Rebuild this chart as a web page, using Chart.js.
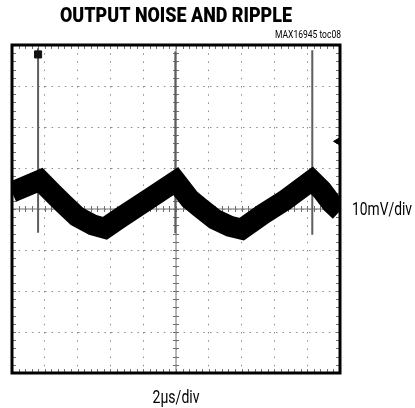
<!DOCTYPE html>
<html>
<head>
<meta charset="utf-8">
<script src="https://cdn.jsdelivr.net/npm/chart.js@4.4.1/dist/chart.umd.min.js"></script>
<style>
  body { margin: 0; background: #fff; }
</style>
</head>
<body>
<canvas id="chartRipple" width="415" height="408"></canvas>
<script>
// scope trace: time in us, output ripple in mV
var timeUs  = [0, 1.71, 2.50, 3.11, 3.96, 4.93, 5.67, 6.58, 8.41, 9.99, 10.84, 11.45, 12.37, 13.28, 14.01, 15.29, 16.63, 18.28, 18.89, 19.49, 20];
var rippleMv = [4.1, 7.0, 3.8, 1.4, -1.8, -3.9, -4.7, -2.2, 2.6, 6.8, 2.4, 0.4, -2.5, -4.2, -4.9, -1.3, 2.1, 7.0, 4.6, 1.4, -0.5];

// switching spikes
var spikeTimeUs   = [1.59, 9.96, 18.31];
var spikeTopMv    = [39.2, 38.4, 38.7];
var spikeBottomMv = [-5.8, -5.9, -6.3];

// scope markers (trigger point at top, trigger level at right)
var triggerTimeUs = [1.59];
var triggerMv     = [37.7];
var levelTimeUs   = [19.85];
var levelMv       = [16.5];

var titleText = "OUTPUT NOISE AND RIPPLE";
var tocText   = "MAX16945 toc08";
var yDivText  = "10mV/div";
var xDivText  = "2\u00b5s/div";

var xMin = 0, xMax = 20, xStep = 2;
var yMin = -40, yMax = 40, yStep = 10;
var minorPerDiv = 5;

var traceData = timeUs.map(function (t, i) { return { x: t, y: rippleMv[i] }; });

var datasets = [];
for (var i = 0; i < spikeTimeUs.length; i++) {
    datasets.push({
        data: [{ x: spikeTimeUs[i], y: spikeTopMv[i] }, { x: spikeTimeUs[i], y: spikeBottomMv[i] }],
        borderColor: '#5e5e5e',
        borderWidth: 2,
        pointRadius: 0,
        order: 3
    });
}
// noisy ripple band
datasets.push({
    data: traceData,
    borderColor: '#000',
    borderWidth: 21,
    borderJoinStyle: 'miter',
    pointRadius: 0,
    order: 2
});
datasets.push({
    data: triggerTimeUs.map(function (t, i) { return { x: t, y: triggerMv[i] }; }),
    showLine: false,
    pointStyle: 'rect',
    pointRadius: 5,
    backgroundColor: '#111',
    borderColor: '#111',
    order: 1
});
datasets.push({
    data: levelTimeUs.map(function (t, i) { return { x: t, y: levelMv[i] }; }),
    showLine: false,
    pointStyle: 'triangle',
    rotation: -90,
    pointRadius: 4,
    backgroundColor: '#000',
    borderColor: '#000',
    order: 1
});

// squeeze a text horizontally to a given width (condensed face look)
function fitText(c, text, font, x, y, align, width) {
    c.save();
    c.font = font;
    var k = width / c.measureText(text).width;
    var x0 = align === 'center' ? x - width / 2 : (align === 'right' ? x - width : x);
    c.translate(x0, y);
    c.scale(k, 1);
    c.textAlign = 'left';
    c.fillText(text, 0, 0);
    c.restore();
}

// center axes with minor ticks, frame and texts
var scopePlugin = {
    id: 'scope',
    beforeDatasetsDraw: function (chart) {
        var c = chart.ctx, a = chart.chartArea;
        var xs = chart.scales.x, ys = chart.scales.y;
        var cx = xs.getPixelForValue((xMin + xMax) / 2);
        var cy = ys.getPixelForValue((yMin + yMax) / 2);
        c.save();
        c.strokeStyle = '#707070';
        c.lineWidth = 1;
        c.beginPath();
        c.moveTo(a.left, cy); c.lineTo(a.right, cy);
        c.moveTo(cx, a.top); c.lineTo(cx, a.bottom);
        var dx = xStep / minorPerDiv, dy = yStep / minorPerDiv;
        for (var v = xMin; v <= xMax + 1e-9; v += dx) {
            var px = Math.round(xs.getPixelForValue(v)) + 0.5;
            c.moveTo(px, cy - 3); c.lineTo(px, cy + 3);
            c.moveTo(px, a.top); c.lineTo(px, a.top + 4);
            c.moveTo(px, a.bottom); c.lineTo(px, a.bottom - 4);
        }
        for (var w = yMin; w <= yMax + 1e-9; w += dy) {
            var py = Math.round(ys.getPixelForValue(w)) + 0.5;
            c.moveTo(cx - 3, py); c.lineTo(cx + 3, py);
            c.moveTo(a.left, py); c.lineTo(a.left + 4, py);
            c.moveTo(a.right, py); c.lineTo(a.right - 4, py);
        }
        c.stroke();
        c.restore();
    },
    afterDraw: function (chart) {
        var c = chart.ctx, a = chart.chartArea;
        var mid = (a.left + a.right) / 2;
        c.save();
        c.strokeStyle = '#000';
        c.lineWidth = 3;
        c.strokeRect(a.left, a.top, a.right - a.left, a.bottom - a.top);

        c.fillStyle = '#000';
        c.textBaseline = 'alphabetic';
        fitText(c, titleText, '900 19.5px Roboto, sans-serif', mid, 22, 'center', 232);
        fitText(c, tocText, '10px Roboto, sans-serif', a.right + 1, 38, 'right', 66);
        fitText(c, yDivText, '18px Roboto, sans-serif', a.right + 12, 215, 'left', 60);
        fitText(c, xDivText, '18px Roboto, sans-serif', mid, a.bottom + 30, 'center', 47);
        c.restore();
    }
};

var chart = new Chart(document.getElementById('chartRipple').getContext('2d'), {
    type: 'line',
    data: { datasets: datasets },
    options: {
        responsive: false,
        animation: false,
        layout: { padding: { left: 12, right: 75, top: 45, bottom: 35 } },
        plugins: { legend: { display: false }, tooltip: { enabled: false } },
        scales: {
            x: {
                type: 'linear', min: xMin, max: xMax,
                ticks: { stepSize: xStep, display: false },
                grid: { color: '#8c8c8c', lineWidth: 1, drawTicks: false },
                border: { display: false, dash: [1.5, 6.7] }
            },
            y: {
                type: 'linear', min: yMin, max: yMax,
                ticks: { stepSize: yStep, display: false },
                grid: { color: '#8c8c8c', lineWidth: 1, drawTicks: false },
                border: { display: false, dash: [1.5, 5.1] }
            }
        }
    },
    plugins: [scopePlugin]
});
</script>
</body>
</html>
